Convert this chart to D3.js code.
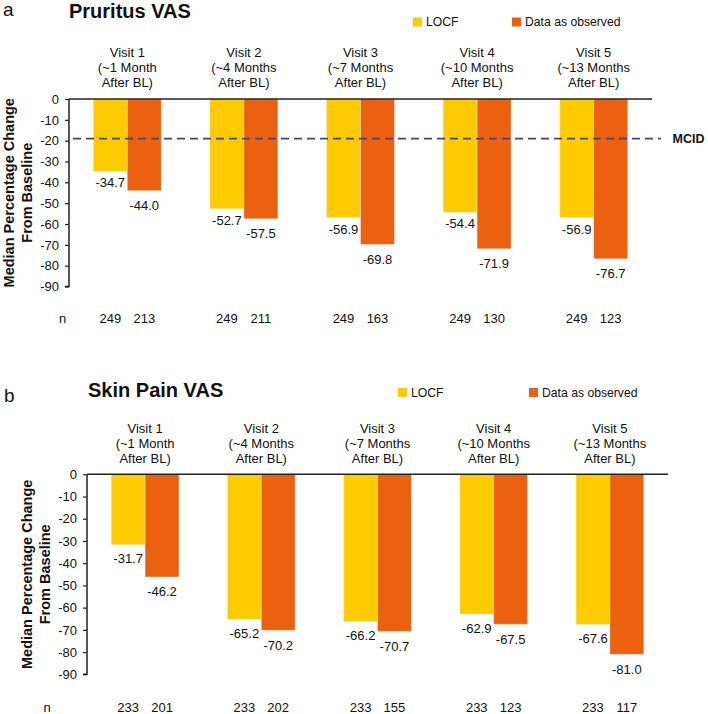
<!DOCTYPE html>
<html>
<head>
<meta charset="utf-8">
<script src="https://cdn.jsdelivr.net/npm/d3@7"></script>
<style>
  html, body { margin: 0; padding: 0; background: #fff; }
  svg { display: block; font-family: "Liberation Sans", Arial, Helvetica, sans-serif; }
</style>
</head>
<body>
<svg id="chart" width="708" height="714"></svg>
<script>
// ---------- DATA ----------
const visits = ["Visit 1", "Visit 2", "Visit 3", "Visit 4", "Visit 5"];
const visitSub = ["(~1 Month", "(~4 Months", "(~7 Months", "(~10 Months", "(~13 Months"];
const visitSub2 = ["After BL)", "After BL)", "After BL)", "After BL)", "After BL)"];
const seriesNames = ["LOCF", "Data as observed"];
const seriesColors = ["#FECB00", "#EC6110"];

const pruritusLOCF = [-34.7, -52.7, -56.9, -54.4, -56.9];
const pruritusObserved = [-44.0, -57.5, -69.8, -71.9, -76.7];
const pruritusNLOCF = [249, 249, 249, 249, 249];
const pruritusNObserved = [213, 211, 163, 130, 123];

const skinPainLOCF = [-31.7, -65.2, -66.2, -62.9, -67.6];
const skinPainObserved = [-46.2, -70.2, -70.7, -67.5, -81.0];
const skinPainNLOCF = [233, 233, 233, 233, 233];
const skinPainNObserved = [201, 202, 155, 123, 117];

const yTicks = [0, -10, -20, -30, -40, -50, -60, -70, -80, -90];
const yDomain = [-90, 0];
const mcidValue = -19;
const yLabelLines = ["Median Percentage Change", "From Baseline"];

// ---------- DRAW ----------
const svg = d3.select("#chart");

function drawPanel(p) {
  const g = svg.append("g");
  const x0 = d3.scaleBand().domain(visits).range([p.left, p.right]).padding(0);
  const x1 = d3.scaleBand().domain(seriesNames).range([0, x0.bandwidth()]).paddingInner(0).paddingOuter(0.715);
  const y = d3.scaleLinear().domain(yDomain).range([p.yBottom, p.yTop]);

  // panel letter and title
  g.append("text").attr("x", p.letter[0]).attr("y", p.letter[1])
    .attr("font-size", 19).attr("fill", "#111").text(p.letterText);
  g.append("text").attr("x", p.title[0]).attr("y", p.title[1])
    .attr("font-size", 20).attr("font-weight", "bold").attr("fill", "#111").text(p.titleText);

  // legend
  seriesNames.forEach((s, i) => {
    g.append("rect").attr("x", p.legendX[i]).attr("y", p.legendY - 4.5)
      .attr("width", 9).attr("height", 9).attr("fill", seriesColors[i]);
    g.append("text").attr("x", p.legendX[i] + 13).attr("y", p.legendY + 4.3)
      .attr("font-size", 12.2).attr("fill", "#111").text(s);
  });

  // visit headers
  const hdr = g.append("g").attr("font-size", 13).attr("fill", "#111").attr("text-anchor", "middle");
  visits.forEach((v, i) => {
    const cx = x0(v) + x0.bandwidth() / 2;
    hdr.append("text").attr("x", cx).attr("y", p.visitY).text(v);
    hdr.append("text").attr("x", cx).attr("y", p.visitY + 15).text(visitSub[i]);
    hdr.append("text").attr("x", cx).attr("y", p.visitY + 30).text(visitSub2[i]);
  });

  // bars
  const rows = visits.map((v, i) => ({ v, vals: [p.locf[i], p.obs[i]], ns: [p.nLocf[i], p.nObs[i]] }));
  const grp = g.selectAll(".grp").data(rows).join("g")
    .attr("transform", d => `translate(${x0(d.v)},0)`);
  grp.selectAll("rect").data(d => d.vals.map((val, j) => ({ s: seriesNames[j], val, j })))
    .join("rect")
    .attr("x", d => x1(d.s))
    .attr("y", y(0))
    .attr("width", x1.bandwidth())
    .attr("height", d => y(d.val) - y(0))
    .attr("fill", d => seriesColors[d.j])
    .attr("stroke", "#fff").attr("stroke-opacity", 0.35).attr("stroke-width", 1);

  // value labels
  grp.selectAll("text.val").data(d => d.vals.map((val, j) => ({ s: seriesNames[j], val, j })))
    .join("text").attr("class", "val")
    .attr("x", d => x1(d.s) + x1.bandwidth() / 2)
    .attr("y", d => y(d.val) + p.labelOff[d.j])
    .attr("text-anchor", "middle").attr("font-size", 13).attr("fill", "#111")
    .text(d => d.val.toFixed(1));

  // n row
  g.append("text").attr("x", p.nX).attr("y", p.nY).attr("text-anchor", "middle")
    .attr("font-size", 13).attr("fill", "#111").text("n");
  grp.selectAll("text.n").data(d => d.ns.map((n, j) => ({ s: seriesNames[j], n })))
    .join("text").attr("class", "n")
    .attr("x", d => x1(d.s) + x1.bandwidth() / 2)
    .attr("y", p.nY)
    .attr("text-anchor", "middle").attr("font-size", 13).attr("fill", "#111")
    .text(d => d.n);

  // y axis
  const yAxis = d3.axisLeft(y).tickValues(yTicks).tickSize(4).tickPadding(6)
    .tickFormat(d => String(d));
  const ax = g.append("g").attr("transform", `translate(${p.left},0)`).call(yAxis);
  ax.select(".domain").attr("stroke", "#222").attr("stroke-width", 1.5).attr("d", `M-4,${p.yBottom}H0V${p.yTop}`);
  ax.selectAll(".tick line").attr("stroke", "#222").attr("stroke-width", 1.2);
  ax.selectAll(".tick text").attr("font-size", 13).attr("fill", "#111")
    .attr("font-family", "Liberation Sans, Arial, sans-serif");

  // top zero line
  g.append("line").attr("x1", p.left).attr("x2", p.right)
    .attr("y1", y(0)).attr("y2", y(0)).attr("stroke", "#222").attr("stroke-width", 1.5);

  // y label
  const cy = (p.yTop + p.yBottom) / 2;
  yLabelLines.forEach((t, i) => {
    g.append("text").attr("transform", `translate(${p.yLabelX[i]},${cy}) rotate(-90)`)
      .attr("text-anchor", "middle").attr("font-size", 14.5).attr("font-weight", "bold")
      .attr("fill", "#111").text(t);
  });

  // MCID
  if (p.mcid) {
    g.append("line").attr("x1", p.left + 4).attr("x2", p.mcidEnd)
      .attr("y1", y(mcidValue)).attr("y2", y(mcidValue))
      .attr("stroke", "#44446E").attr("stroke-width", 1.6).attr("stroke-dasharray", "8,5");
    g.append("text").attr("x", p.mcidEnd + 11.5).attr("y", y(mcidValue) + 4.5)
      .attr("font-size", 12.5).attr("font-weight", "bold").attr("fill", "#111").text("MCID");
  }
}

drawPanel({
  left: 69, right: 652, yTop: 99, yBottom: 286.5,
  letterText: "a", letter: [3, 16], titleText: "Pruritus VAS", title: [69, 18],
  legendX: [413, 512], legendY: 22,
  visitY: 57, nY: 323, nX: 62.7, yLabelX: [13.5, 32],
  locf: pruritusLOCF, obs: pruritusObserved, nLocf: pruritusNLOCF, nObs: pruritusNObserved,
  labelOff: [16, 19.5], mcid: true, mcidEnd: 661
});

drawPanel({
  left: 87, right: 668, yTop: 474.3, yBottom: 674.3,
  letterText: "b", letter: [4, 402], titleText: "Skin Pain VAS", title: [88, 397],
  legendX: [398, 529], legendY: 392.5,
  visitY: 433, nY: 712, nX: 47, yLabelX: [32, 50.4],
  locf: skinPainLOCF, obs: skinPainObserved, nLocf: skinPainNLOCF, nObs: skinPainNObserved,
  labelOff: [18.5, 19.5], mcid: false
});
</script>
</body>
</html>
